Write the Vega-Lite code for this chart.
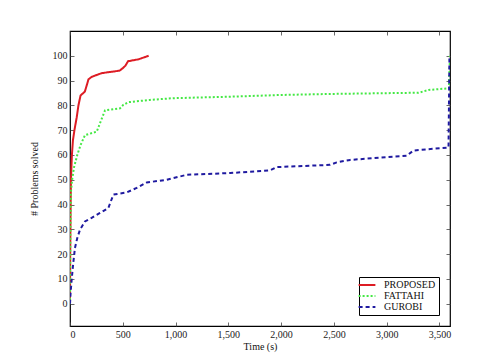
{
  "$schema": "https://vega.github.io/schema/vega-lite/v6.json",
  "width": 380,
  "height": 295,
  "autosize": {"type": "none"},
  "padding": {"left": 70, "top": 31, "right": 27, "bottom": 36},
  "background": "white",
  "config": {
    "font": "Liberation Serif",
    "view": {"stroke": "black", "strokeWidth": 1.2},
    "axis": {
      "labelFont": "Liberation Serif",
      "titleFont": "Liberation Serif",
      "labelFontSize": 10,
      "titleFontSize": 10,
      "titleFontWeight": "normal",
      "labelColor": "#222",
      "titleColor": "#111",
      "grid": false,
      "domain": false,
      "tickColor": "#444",
      "tickSize": -4,
      "tickWidth": 0.8
    },
    "legend": {"labelFont": "Liberation Serif"}
  },
  "data": {
    "values": [
      {"s": "PROPOSED", "t": 0, "n": 0},
      {"s": "PROPOSED", "t": 2, "n": 20},
      {"s": "PROPOSED", "t": 5, "n": 35},
      {"s": "PROPOSED", "t": 9, "n": 50},
      {"s": "PROPOSED", "t": 18, "n": 60},
      {"s": "PROPOSED", "t": 28, "n": 66},
      {"s": "PROPOSED", "t": 42, "n": 70},
      {"s": "PROPOSED", "t": 63, "n": 75},
      {"s": "PROPOSED", "t": 80, "n": 80},
      {"s": "PROPOSED", "t": 100, "n": 84},
      {"s": "PROPOSED", "t": 140, "n": 85.5},
      {"s": "PROPOSED", "t": 158, "n": 88},
      {"s": "PROPOSED", "t": 175, "n": 90.5},
      {"s": "PROPOSED", "t": 205, "n": 91.5},
      {"s": "PROPOSED", "t": 300, "n": 93},
      {"s": "PROPOSED", "t": 470, "n": 94},
      {"s": "PROPOSED", "t": 500, "n": 95},
      {"s": "PROPOSED", "t": 525, "n": 96},
      {"s": "PROPOSED", "t": 550, "n": 97.8},
      {"s": "PROPOSED", "t": 650, "n": 98.6},
      {"s": "PROPOSED", "t": 745, "n": 100},
      {"s": "FATTAHI", "t": 0, "n": 0},
      {"s": "FATTAHI", "t": 3, "n": 25},
      {"s": "FATTAHI", "t": 9, "n": 45},
      {"s": "FATTAHI", "t": 20, "n": 50},
      {"s": "FATTAHI", "t": 38, "n": 55},
      {"s": "FATTAHI", "t": 69, "n": 60},
      {"s": "FATTAHI", "t": 100, "n": 64},
      {"s": "FATTAHI", "t": 142, "n": 68},
      {"s": "FATTAHI", "t": 253, "n": 69.4},
      {"s": "FATTAHI", "t": 284, "n": 72.8},
      {"s": "FATTAHI", "t": 332, "n": 78},
      {"s": "FATTAHI", "t": 474, "n": 78.8},
      {"s": "FATTAHI", "t": 505, "n": 80.2},
      {"s": "FATTAHI", "t": 553, "n": 81.3},
      {"s": "FATTAHI", "t": 758, "n": 82.2},
      {"s": "FATTAHI", "t": 979, "n": 82.9},
      {"s": "FATTAHI", "t": 1517, "n": 83.5},
      {"s": "FATTAHI", "t": 2000, "n": 84.2},
      {"s": "FATTAHI", "t": 2464, "n": 84.6},
      {"s": "FATTAHI", "t": 3302, "n": 85.1},
      {"s": "FATTAHI", "t": 3397, "n": 86.2},
      {"s": "FATTAHI", "t": 3590, "n": 86.9},
      {"s": "FATTAHI", "t": 3600, "n": 100},
      {"s": "GUROBI", "t": 0, "n": 0},
      {"s": "GUROBI", "t": 5, "n": 4},
      {"s": "GUROBI", "t": 16, "n": 9.8},
      {"s": "GUROBI", "t": 31, "n": 16.5},
      {"s": "GUROBI", "t": 47, "n": 22.5},
      {"s": "GUROBI", "t": 69, "n": 26.5},
      {"s": "GUROBI", "t": 95, "n": 29.9},
      {"s": "GUROBI", "t": 142, "n": 33.2},
      {"s": "GUROBI", "t": 205, "n": 34.6},
      {"s": "GUROBI", "t": 284, "n": 36.6},
      {"s": "GUROBI", "t": 363, "n": 38.6},
      {"s": "GUROBI", "t": 411, "n": 44},
      {"s": "GUROBI", "t": 537, "n": 44.9},
      {"s": "GUROBI", "t": 632, "n": 46.7},
      {"s": "GUROBI", "t": 727, "n": 48.9},
      {"s": "GUROBI", "t": 917, "n": 50},
      {"s": "GUROBI", "t": 1106, "n": 52},
      {"s": "GUROBI", "t": 1517, "n": 52.7},
      {"s": "GUROBI", "t": 1896, "n": 53.8},
      {"s": "GUROBI", "t": 1959, "n": 55.1},
      {"s": "GUROBI", "t": 2464, "n": 56},
      {"s": "GUROBI", "t": 2527, "n": 57},
      {"s": "GUROBI", "t": 2654, "n": 58},
      {"s": "GUROBI", "t": 3191, "n": 59.7},
      {"s": "GUROBI", "t": 3254, "n": 61.8},
      {"s": "GUROBI", "t": 3586, "n": 63},
      {"s": "GUROBI", "t": 3595, "n": 100}
    ]
  },
  "layer": [
    {
      "mark": {"type": "line", "clip": true},
      "encoding": {
        "x": {
          "field": "t", "type": "quantitative",
          "scale": {"domain": [0, 3600], "nice": false, "zero": false},
          "axis": {"title": "Time (s)", "values": [0, 500, 1000, 1500, 2000, 2500, 3000, 3500], "labelExpr": "format(datum.value, ',')", "labelPadding": 7, "titlePadding": 2}
        },
        "y": {
          "field": "n", "type": "quantitative",
          "scale": {"domain": [-9, 110], "nice": false, "zero": false},
          "axis": {"title": "# Problems solved", "values": [0, 10, 20, 30, 40, 50, 60, 70, 80, 90, 100], "labelPadding": 7, "titlePadding": 13}
        },
        "color": {
          "field": "s", "type": "nominal",
          "scale": {"domain": ["PROPOSED", "FATTAHI", "GUROBI"], "range": ["#dd1c24", "#44e844", "#1f1aa0"]},
          "legend": {
            "title": null,
            "orient": "none",
            "legendX": 289,
            "legendY": 246,
            "strokeColor": "black",
            "padding": 3,
            "fillColor": "white",
            "labelFont": "Liberation Serif",
            "labelFontSize": 10,
            "labelColor": "#111",
            "symbolType": "M-2.8,0H2.8",
            "symbolSize": 36,
            "symbolStrokeWidth": 2,
            "rowPadding": 1,
            "labelOffset": 12
          }
        },
        "strokeDash": {
          "field": "s", "type": "nominal",
          "scale": {"domain": ["PROPOSED", "FATTAHI", "GUROBI"], "range": [[1, 0], [2, 2], [4, 3]]},
          "legend": null
        },
        "strokeWidth": {
          "field": "s", "type": "nominal",
          "scale": {"domain": ["PROPOSED", "FATTAHI", "GUROBI"], "range": [2, 2, 2.5]},
          "legend": null
        },
        "order": {"field": "t", "type": "quantitative"}
      }
    },
    {
      "mark": {"type": "point", "opacity": 0},
      "encoding": {
        "x": {
          "field": "t", "type": "quantitative",
          "scale": {"domain": [0, 3600], "nice": false, "zero": false},
          "axis": {"orient": "top", "title": null, "labels": false, "values": [0, 500, 1000, 1500, 2000, 2500, 3000, 3500]}
        },
        "y": {
          "field": "n", "type": "quantitative",
          "scale": {"domain": [-9, 110], "nice": false, "zero": false},
          "axis": {"orient": "right", "title": null, "labels": false, "values": [0, 10, 20, 30, 40, 50, 60, 70, 80, 90, 100]}
        }
      }
    }
  ],
  "resolve": {"axis": {"x": "independent", "y": "independent"}}
}
